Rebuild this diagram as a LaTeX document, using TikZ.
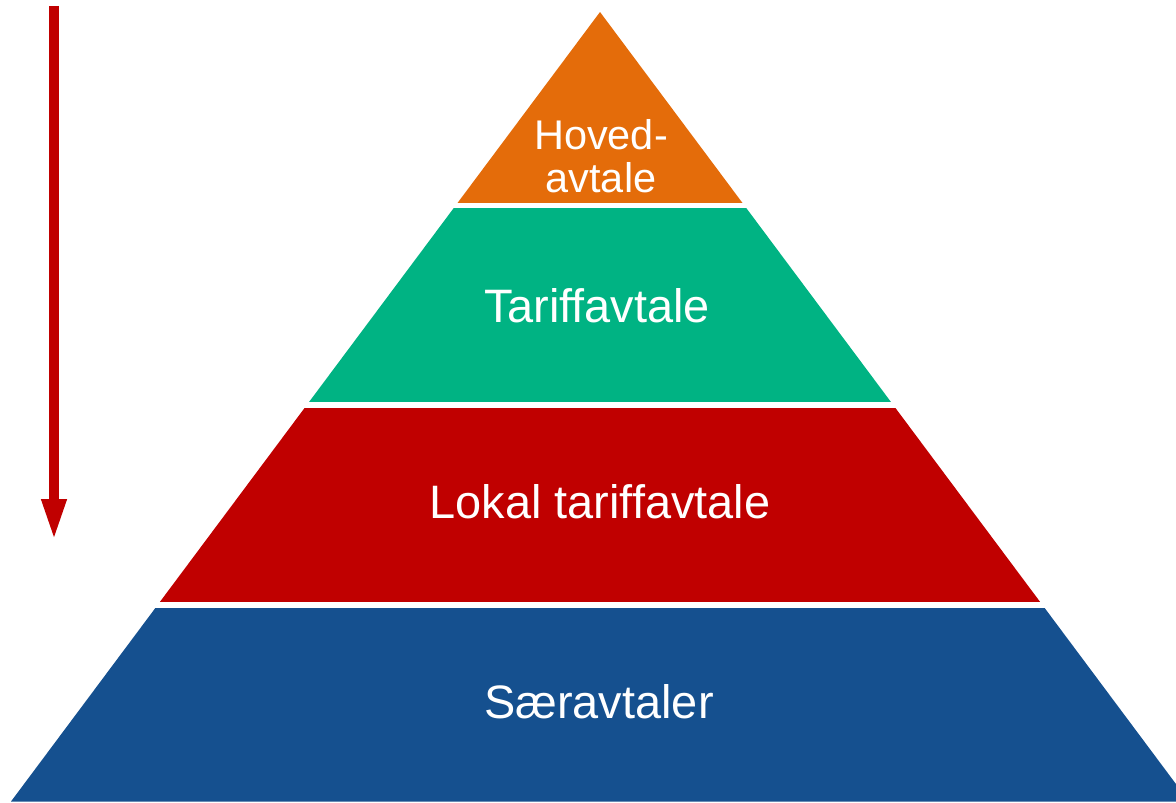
\documentclass[tikz,border=0pt]{standalone}
\usepackage{xcolor}
\usepackage{fontspec}
\setmainfont{Liberation Sans}
\usetikzlibrary{positioning, arrows.meta}
\definecolor{hovedorange}{HTML}{E46C0A}
\definecolor{tariffgreen}{HTML}{00B383}
\definecolor{lokalred}{HTML}{C00000}
\definecolor{saerblue}{HTML}{15508F}

\begin{document}
\begin{tikzpicture}[x=0.02cm,y=-0.02cm,
layertext/.style={text=white,font=\fontsize{26.7}{32}\selectfont,anchor=base}]
\useasboundingbox (0,0) rectangle (1176,803);
\begin{scope}
\clip (600,12) -- (11,801.5) -- (1189,801.5) -- cycle; % pyramid
\foreach \ya / \yb / \col in
{12/203/hovedorange, 208.5/402.3/tariffgreen,
407.7/601.7/lokalred, 608.3/801.5/saerblue}
\fill[\col] (0,\ya) rectangle (1176,\yb);
\end{scope}
\node[layertext, font=\fontsize{23.6}{24.5}\selectfont, align=center, anchor=center] (hoved) at (601,156) {Hoved-\\avtale};
\node[layertext] (tariff) at (597,322.3) {Tariffavtale};
\node[layertext] (lokal) at (600,519) {Lokal tariffavtale};
\node[layertext] (saer) at (599,718.3) {Særavtaler};
\coordinate (arrowtop) at (54,6);
\coordinate (arrowtip) at (54,542.7);
\draw[lokalred, line width=0.22cm, -{Triangle[width=0.44cm,length=0.87cm]}] (arrowtop) -- (arrowtip); % top down
\end{tikzpicture}
\end{document}
